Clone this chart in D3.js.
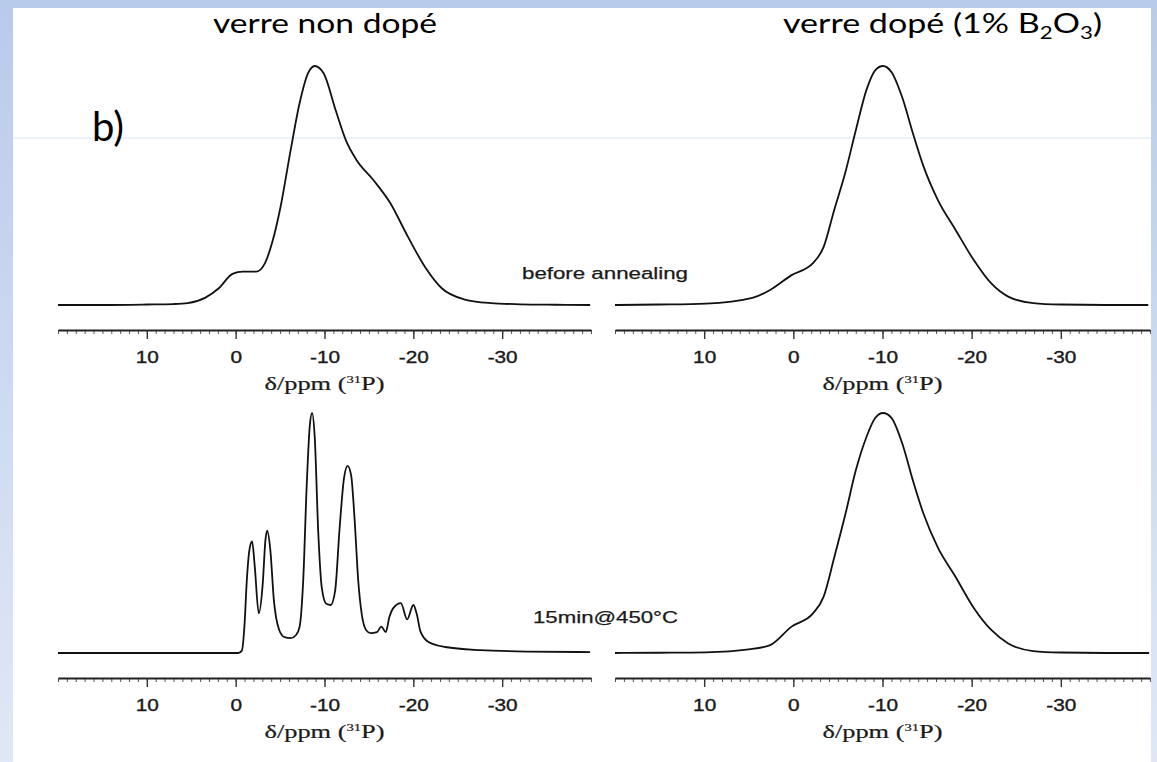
<!DOCTYPE html>
<html>
<head>
<meta charset="utf-8">
<style>
    body { margin: 0; background: #fff; }
    svg { display: block; }
    .axis .domain { stroke: #222; stroke-width: 2.2px; }
    .axis .tick line { stroke: #333; stroke-width: 1.4px; }
    .minor .tick line { stroke: #555; stroke-width: 1px; }
    .minor .domain { display: none; }
    .axis .tick text {
        font-family: "Liberation Sans", Arial, sans-serif;
        font-size: 16px;
        fill: #1a1a1a;
        stroke: #1a1a1a;
        stroke-width: 0.35px;
    }
    .slide-title { font-family: Lato, "Noto Sans", sans-serif; fill: #000; }
    .fig-text { font-family: "Liberation Sans", Arial, sans-serif; fill: #1a1a1a; stroke: #1a1a1a; stroke-width: 0.25px; }
    .ax-title { font-family: "Liberation Serif", "Times New Roman", serif; fill: #1a1a1a; stroke: #1a1a1a; stroke-width: 0.2px; }
</style>
</head>
<body>
<svg width="1157" height="762"></svg>
<script src="https://d3js.org/d3.v7.min.js"></script>
<script>
    // ---- data (ppm, normalised intensity) ----
    const ppmDomain = [20, -40]
    const majorTicks = [10, 0, -10, -20, -30]
    const minorTicks = d3.range(-40, 20.5, 1)

    // verre non dopé, before annealing
    const undopedBeforePpm = [20, 15, 10, 7, 5.4, 3.45, 1.9, 0.36, -0.8, -2.35, -3.3, -4.1, -5.05, -6.2, -7.2, -8.15, -8.9, -9.9, -11.25, -12.4, -13.6, -15.5, -17.4, -19.4, -21.3, -23.2, -25.6, -28.7, -32, -36, -39.9]
    const undopedBeforeInt = [0, 0, 0.002, 0.004, 0.008, 0.03, 0.07, 0.13, 0.14, 0.14, 0.175, 0.26, 0.41, 0.65, 0.845, 0.97, 1.0, 0.97, 0.816, 0.69, 0.607, 0.523, 0.427, 0.285, 0.16, 0.07, 0.025, 0.008, 0.003, 0.001, 0]

    // verre dopé, before annealing
    const dopedBeforePpm = [20, 15, 9.8, 4.6, 2.6, 0.2, -2.2, -3.4, -4.6, -5.8, -7.0, -8.2, -9.2, -10.05, -11.0, -12.2, -13.4, -14.6, -16.2, -18.2, -20.2, -22.2, -24.1, -26.9, -30, -35, -39.8]
    const dopedBeforeInt = [0, 0.002, 0.006, 0.03, 0.063, 0.125, 0.175, 0.243, 0.40, 0.55, 0.73, 0.90, 0.983, 1.0, 0.975, 0.87, 0.72, 0.58, 0.44, 0.314, 0.19, 0.09, 0.035, 0.008, 0.002, 0, 0]

    // verre non dopé, 15min@450°C
    const undopedAnnealPpm = [20, 15, 9.3, 3, -0.3, -0.7, -1.0, -1.25, -1.55, -1.85, -2.15, -2.6, -3.05, -3.35, -3.55, -3.9, -4.3, -4.9, -5.5, -6.2, -6.8, -7.2, -7.6, -8.0, -8.35, -8.6, -8.9, -9.3, -9.7, -10.2, -10.7, -11.2, -11.7, -12.2, -12.6, -13.0, -13.4, -13.8, -14.2, -14.7, -15.2, -15.9, -16.4, -16.9, -17.3, -17.7, -18.6, -19.3, -20.0, -20.4, -20.8, -21.7, -23.6, -27.5, -33, -39.9]
    const undopedAnnealInt = [0, 0, 0, 0, 0, 0.01, 0.12, 0.3, 0.43, 0.465, 0.36, 0.165, 0.29, 0.47, 0.51, 0.43, 0.22, 0.096, 0.066, 0.062, 0.075, 0.11, 0.3, 0.7, 0.95, 1.0, 0.9, 0.5, 0.27, 0.205, 0.2, 0.26, 0.52, 0.73, 0.78, 0.74, 0.55, 0.3, 0.16, 0.095, 0.083, 0.087, 0.11, 0.087, 0.15, 0.185, 0.208, 0.14, 0.2, 0.16, 0.09, 0.046, 0.025, 0.012, 0.006, 0.004]

    // verre dopé, 15min@450°C
    const dopedAnnealPpm = [20, 15, 9.8, 5.0, 2.6, 0.2, -2.2, -3.4, -4.6, -5.85, -7.0, -8.2, -9.2, -10.05, -11.0, -12.2, -13.4, -14.6, -16.2, -18.2, -20.2, -22.2, -24.1, -26.9, -30, -35, -39.9]
    const dopedAnnealInt = [0, 0.001, 0.003, 0.015, 0.033, 0.11, 0.165, 0.235, 0.40, 0.58, 0.76, 0.90, 0.98, 1.0, 0.98, 0.875, 0.72, 0.58, 0.44, 0.317, 0.19, 0.096, 0.04, 0.008, 0.002, 0, 0]

    const svg = d3.select("svg")

    // slide background: blue frame with white page
    let defs = svg.append("defs")
    let grad = defs.append("linearGradient")
        .attr("id", "frame")
        .attr("x1", 0).attr("y1", 0).attr("x2", 0).attr("y2", 1)
    grad.append("stop").attr("offset", "0%").attr("stop-color", "#b9cbea")
    grad.append("stop").attr("offset", "100%").attr("stop-color", "#e0e8f6")

    svg.append("rect")
        .attr("width", 1157).attr("height", 762)
        .style("fill", "url(#frame)")
    svg.append("rect")
        .attr("x", 13).attr("y", 8)
        .attr("width", 1138).attr("height", 754)
        .style("fill", "#fff")
    // faint guide line of the slide
    svg.append("line")
        .attr("x1", 13).attr("x2", 1151)
        .attr("y1", 138).attr("y2", 138)
        .style("stroke", "#d9e2f5").style("stroke-width", 1)

    // the four spectra
    const panels = [
        { ppm: undopedBeforePpm, val: undopedBeforeInt, xr: [58, 591], base: 305, top: 66, axisY: 330 },
        { ppm: dopedBeforePpm, val: dopedBeforeInt, xr: [615, 1150], base: 305, top: 66, axisY: 330 },
        { ppm: undopedAnnealPpm, val: undopedAnnealInt, xr: [58, 591], base: 653, top: 413, axisY: 678 },
        { ppm: dopedAnnealPpm, val: dopedAnnealInt, xr: [615, 1150], base: 653, top: 413, axisY: 678 }
    ]

    panels.forEach(function (p) {
        let x = d3.scaleLinear().domain(ppmDomain).range(p.xr)
        let y = d3.scaleLinear().domain([0, 1]).range([p.base, p.top])

        let pts = p.ppm.map((d, i) => ({ ppm: d, v: p.val[i] }))

        let line = d3.line()
            .x(d => x(d.ppm))
            .y(d => y(d.v))
            .curve(d3.curveMonotoneX)

        svg.append("path")
            .datum(pts)
            .attr("d", line)
            .style("fill", "none")
            .style("stroke", "#111")
            .style("stroke-width", 1.8)
            .style("stroke-linejoin", "round")

        // minor ticks every ppm
        svg.append("g")
            .attr("class", "axis minor")
            .attr("transform", `translate(0,${p.axisY})`)
            .call(d3.axisBottom(x).tickValues(minorTicks).tickSize(4).tickFormat(""))

        let ax = svg.append("g")
            .attr("class", "axis")
            .attr("transform", `translate(0,${p.axisY})`)
            .call(d3.axisBottom(x)
                .tickValues(majorTicks)
                .tickSize(9)
                .tickSizeOuter(0)
                .tickPadding(13)
                .tickFormat(d => String(d)))
        ax.selectAll(".tick text").attr("transform", "scale(1.3,1)")

        // axis title
        let t = svg.append("text")
            .attr("class", "ax-title")
            .attr("x", x(-10) - 60)
            .attr("y", p.axisY + 60)
            .attr("textLength", 120)
            .attr("lengthAdjust", "spacingAndGlyphs")
            .style("font-size", "18px")
        t.append("tspan").text("δ/ppm (")
        t.append("tspan").text("31").style("font-size", "10px").attr("dy", -7)
        t.append("tspan").text("P)").attr("dy", 7)
    })

    // annotations between panels
    svg.append("text")
        .attr("class", "fig-text")
        .attr("x", 522).attr("y", 279)
        .attr("textLength", 166)
        .attr("lengthAdjust", "spacingAndGlyphs")
        .style("font-size", "16px")
        .text("before annealing")

    svg.append("text")
        .attr("class", "fig-text")
        .attr("x", 533).attr("y", 623)
        .attr("textLength", 145)
        .attr("lengthAdjust", "spacingAndGlyphs")
        .style("font-size", "16px")
        .text("15min@450°C")

    // slide texts
    svg.append("text")
        .attr("class", "slide-title")
        .attr("x", 92).attr("y", 141)
        .style("font-size", "40px")
        .text("b)")

    svg.append("text")
        .attr("class", "slide-title")
        .attr("x", 213).attr("y", 33)
        .attr("textLength", 224)
        .attr("lengthAdjust", "spacingAndGlyphs")
        .style("font-size", "26px")
        .text("verre non dopé")

    let rt = svg.append("text")
        .attr("class", "slide-title")
        .attr("x", 783).attr("y", 33)
        .attr("textLength", 319)
        .attr("lengthAdjust", "spacingAndGlyphs")
        .style("font-size", "26px")
    rt.append("tspan").text("verre dopé (1% B")
    rt.append("tspan").text("2").style("font-size", "17px").attr("dy", 6)
    rt.append("tspan").text("O").attr("dy", -6)
    rt.append("tspan").text("3").style("font-size", "17px").attr("dy", 6)
    rt.append("tspan").text(")").attr("dy", -6)
</script>
</body>
</html>
